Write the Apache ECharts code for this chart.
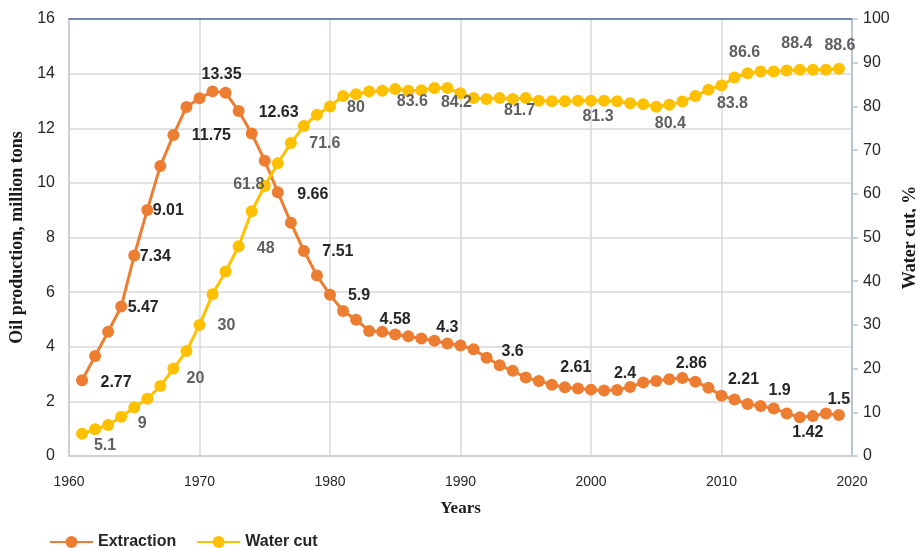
<!DOCTYPE html>
<html>
<head>
<meta charset="utf-8">
<script src="https://cdn.jsdelivr.net/npm/echarts@6/dist/echarts.min.js"></script>
<style>
html,body{margin:0;padding:0;background:#fff;}
#chart{width:916px;height:548px;}
</style>
</head>
<body>
<div id="chart"></div>
<script>
// ---- data ----
var years = [1961,1962,1963,1964,1965,1966,1967,1968,1969,1970,1971,1972,1973,1974,1975,1976,1977,1978,1979,1980,
  1981,1982,1983,1984,1985,1986,1987,1988,1989,1990,1991,1992,1993,1994,1995,1996,1997,1998,1999,2000,
  2001,2002,2003,2004,2005,2006,2007,2008,2009,2010,2011,2012,2013,2014,2015,2016,2017,2018,2019];
var extraction = [2.77,3.66,4.55,5.47,7.34,9.01,10.62,11.75,12.78,13.1,13.35,13.3,12.63,11.81,10.81,9.66,8.54,7.51,6.61,5.9,
  5.31,4.99,4.58,4.55,4.45,4.38,4.3,4.22,4.12,4.05,3.91,3.6,3.32,3.12,2.87,2.75,2.61,2.52,2.47,2.43,
  2.4,2.42,2.53,2.69,2.75,2.81,2.86,2.72,2.5,2.21,2.07,1.9,1.83,1.74,1.56,1.42,1.46,1.56,1.5];
var waterCut = [5.1,6.1,7.1,9,11.1,13.1,16,20,24,30,37,42.2,48,56,61.8,67,71.6,75.5,78.1,80,
  82.4,82.8,83.4,83.6,84,83.6,83.7,84.2,84.2,83,81.9,81.7,81.9,81.7,81.9,81.3,81.2,81.2,81.3,81.3,
  81.3,81.2,80.7,80.5,79.9,80.4,81.1,82.4,83.8,84.8,86.6,87.6,88,88,88.2,88.4,88.4,88.4,88.6];
var xTicks = [1960,1970,1980,1990,2000,2010,2020];
var seriesNames = ['Extraction','Water cut'];

// label placement (years with a shown label and offset of the label centre from the point)
var extractionLabels = {1961:[34,2],1964:[22,1],1965:[21,1],1966:[21,1],1968:[38,1],1971:[9,-17],1973:[40,2],
  1976:[35,2],1978:[34,1],1980:[29,1],1983:[26,-11],1987:[26,-11],1992:[26,-6],1997:[24,-17],2001:[21,-17],
  2007:[9,-14],2010:[22,-16],2012:[32,-14],2016:[8,15],2019:[0,-15]};
var waterLabels = {1961:[23,12],1964:[21,7],1968:[22,10],1970:[27,1],1973:[27,2],1975:[-16,-1],1977:[34,0],
  1980:[26,1],1986:[4,11],1989:[9,15],1992:[33,12],2000:[7,16],2006:[1,19],2009:[24,14],2011:[10,-25],
  2016:[-3,-26],2019:[1,-23]};

function build(vals, labels, color) {
  return years.map(function (y, i) {
    var item = { value: [y, vals[i]] };
    if (labels[y]) {
      item.label = { show: true, position: 'inside', offset: labels[y], color: color };
    }
    return item;
  });
}

var chart = echarts.init(document.getElementById('chart'), null, { renderer: 'canvas' });
var tickFont = { fontFamily: 'Liberation Sans, sans-serif', fontSize: 14, color: '#262626' };
var yFont = { fontFamily: 'Liberation Sans, sans-serif', fontSize: 16, color: '#262626' };
var titleFont = { fontFamily: 'Liberation Serif, serif', fontWeight: 'bold', fontSize: 18, color: '#1a1a1a' };

chart.setOption({
  animation: false,
  backgroundColor: '#ffffff',
  grid: { left: 69, right: 64, top: 19, bottom: 92, containLabel: false, outerBoundsMode: 'none' },
  legend: {
    left: 44, top: 529,
    itemWidth: 43, itemHeight: 15, itemGap: 20,
    textStyle: { fontFamily: 'Liberation Sans, sans-serif', fontWeight: 'bold', fontSize: 16, color: '#262626' },
    data: seriesNames
  },
  xAxis: [{
    type: 'value', position: 'bottom', min: xTicks[0], max: xTicks[xTicks.length - 1], interval: 10,
    name: 'Years', nameLocation: 'middle', nameGap: 44,
    nameTextStyle: Object.assign({}, titleFont, { fontSize: 17 }),
    axisLine: { show: true, onZero: false, lineStyle: { color: '#c4cbd6', width: 1.5 } },
    axisTick: { show: false },
    axisLabel: Object.assign({ margin: 19, formatter: function (v) { return String(v); } }, tickFont),
    splitLine: { show: true, lineStyle: { color: '#d9d9d9', width: 1.5 } }
  }, {
    type: 'value', position: 'top', min: xTicks[0], max: xTicks[xTicks.length - 1], interval: 10,
    axisLine: { show: true, onZero: false, lineStyle: { color: '#4f6fa3', width: 1.5 } },
    axisTick: { show: false }, axisLabel: { show: false }, splitLine: { show: false }
  }],
  yAxis: [{
    type: 'value', min: 0, max: 16, interval: 2, position: 'left',
    name: 'Oil production, million tons', nameLocation: 'middle', nameGap: 32, nameRotate: 90,
    nameTextStyle: titleFont,
    axisLine: { show: true, onZero: false, lineStyle: { color: '#c4cbd6', width: 1.5 } },
    axisTick: { show: false },
    axisLabel: Object.assign({ margin: 14 }, yFont),
    splitLine: { show: true, lineStyle: { color: '#d9d9d9', width: 1.5 } }
  }, {
    type: 'value', min: 0, max: 100, interval: 10, position: 'right',
    name: 'Water cut, %', nameLocation: 'middle', nameGap: 49, nameRotate: 90,
    nameTextStyle: titleFont,
    axisLine: { show: true, onZero: false, lineStyle: { color: '#b8c4d6', width: 2 } },
    axisTick: { show: true, length: 6, inside: false, lineStyle: { color: '#b8c4d6', width: 1.5 } },
    axisLabel: Object.assign({ margin: 11 }, yFont),
    splitLine: { show: false }
  }],
  series: [{
    name: seriesNames[0], type: 'line', xAxisIndex: 0, yAxisIndex: 0,
    data: build(extraction, extractionLabels, '#262626'),
    color: '#ED7D31',
    lineStyle: { width: 3, color: '#ED7D31' },
    itemStyle: { color: '#ED7D31' },
    symbol: 'circle', symbolSize: 12, showAllSymbol: true,
    label: { show: false, fontFamily: 'Liberation Sans, sans-serif', fontWeight: 'bold', fontSize: 16 },
    emphasis: { disabled: true }
  }, {
    name: seriesNames[1], type: 'line', xAxisIndex: 0, yAxisIndex: 1,
    data: build(waterCut, waterLabels, '#606060'),
    color: '#FFC000',
    lineStyle: { width: 3, color: '#FFC000' },
    itemStyle: { color: '#FFC000' },
    symbol: 'circle', symbolSize: 12, showAllSymbol: true,
    label: { show: false, fontFamily: 'Liberation Sans, sans-serif', fontWeight: 'bold', fontSize: 16 },
    emphasis: { disabled: true }
  }]
});
</script>
</body>
</html>
